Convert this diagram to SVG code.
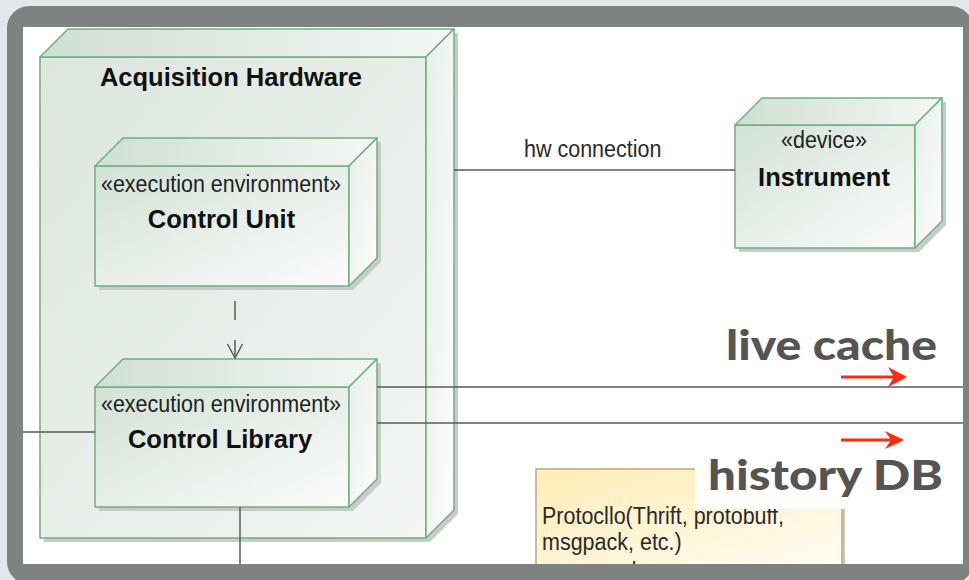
<svg xmlns="http://www.w3.org/2000/svg" width="969" height="580" viewBox="0 0 969 580">
  <defs>
    <linearGradient id="gFront" x1="0" y1="0" x2="1" y2="1">
      <stop offset="0" stop-color="#d2e1d5"/>
      <stop offset="1" stop-color="#fbfcfb"/>
    </linearGradient>
    <linearGradient id="gOuter" x1="0" y1="0" x2="1" y2="1">
      <stop offset="0" stop-color="#dbe6dd"/>
      <stop offset="1" stop-color="#f3f6f4"/>
    </linearGradient>
    <linearGradient id="gTop" x1="0" y1="0" x2="1" y2="0">
      <stop offset="0" stop-color="#cfdfd3"/>
      <stop offset="1" stop-color="#f4f7f5"/>
    </linearGradient>
    <linearGradient id="gSide" x1="0" y1="0" x2="1" y2="1">
      <stop offset="0" stop-color="#e6eee8"/>
      <stop offset="1" stop-color="#fdfdfd"/>
    </linearGradient>
    <linearGradient id="gNote" x1="0" y1="0" x2="1" y2="1">
      <stop offset="0" stop-color="#feedb4"/>
      <stop offset="1" stop-color="#fffcf4"/>
    </linearGradient>
  </defs>
  <style>
    .face { stroke: #6fb07e; stroke-width: 1.5; stroke-linejoin: round; }
    .shadow { fill: #c9cbca; }
    .wire { stroke: #5a5a5a; stroke-width: 1.5; fill: none; }
    .title { font-family: "Liberation Sans", Arial, sans-serif; font-weight: bold; font-size: 25.5px; fill: #111; text-anchor: middle; }
    .stereo { font-family: "Liberation Sans", Arial, sans-serif; font-size: 21.5px; fill: #222; text-anchor: middle; }
    .label { font-family: "Liberation Sans", Arial, sans-serif; font-size: 21.5px; fill: #2a2a2a; }
    .big { font-family: Lato, "Open Sans", sans-serif; font-weight: 900; font-size: 41px; fill: #555555; }
    .red { fill: #ff2a10; }
  </style>

  <!-- page background -->
  <rect x="0" y="0" width="969" height="580" fill="#e3e6ea"/>
  <rect x="23" y="27" width="940" height="537" fill="#ffffff"/>

  <!-- Acquisition Hardware node -->
  <g id="acquisition-hardware">
    <polygon class="shadow" points="44,61 72,33 458,33 458,514 430,542 44,542"/>
    <rect class="face" x="40" y="57" width="386" height="481" fill="url(#gOuter)"/>
    <polygon class="face" points="40,57 68,29 454,29 426,57" fill="url(#gTop)"/>
    <polygon class="face" points="426,57 454,29 454,510 426,538" fill="url(#gSide)"/>
    <text class="title" x="231" y="86">Acquisition Hardware</text>
  </g>

  <!-- Control Unit node -->
  <g id="control-unit">
    <polygon class="shadow" points="99,170 127,142 381,142 381,262 353,290 99,290"/>
    <rect class="face" x="95" y="166" width="254" height="120" fill="url(#gFront)"/>
    <polygon class="face" points="95,166 123,138 377,138 349,166" fill="url(#gTop)"/>
    <polygon class="face" points="349,166 377,138 377,258 349,286" fill="url(#gSide)"/>
    <text class="stereo" transform="translate(221,192) scale(1,1.15)">«execution environment»</text>
    <text class="title" x="221.5" y="228">Control Unit</text>
  </g>

  <!-- Control Library node -->
  <g id="control-library">
    <polygon class="shadow" points="99,391 127,363 381,363 381,483 353,511 99,511"/>
    <rect class="face" x="95" y="387" width="254" height="120" fill="url(#gFront)"/>
    <polygon class="face" points="95,387 123,359 377,359 349,387" fill="url(#gTop)"/>
    <polygon class="face" points="349,387 377,359 377,479 349,507" fill="url(#gSide)"/>
    <text class="stereo" transform="translate(221,412) scale(1,1.15)">«execution environment»</text>
    <text class="title" x="220" y="448">Control Library</text>
  </g>

  <!-- Instrument device node -->
  <g id="instrument">
    <polygon class="shadow" points="739,129 766,102 946,102 946,225 919,252 739,252"/>
    <rect class="face" x="735" y="125" width="180" height="123" fill="url(#gFront)"/>
    <polygon class="face" points="735,125 762,98 942,98 915,125" fill="url(#gTop)"/>
    <polygon class="face" points="915,125 942,98 942,221 915,248" fill="url(#gSide)"/>
    <text class="stereo" transform="translate(824,148) scale(1,1.15)">«device»</text>
    <text class="title" x="824" y="186">Instrument</text>
  </g>

  <!-- Connectors -->
  <g id="connectors">
    <line class="wire" x1="454" y1="170" x2="735" y2="170"/>
    <text class="label" transform="translate(524,157) scale(1,1.15)">hw connection</text>
    <!-- dependency: Control Unit to Control Library -->
    <line class="wire" x1="235" y1="301" x2="235" y2="320"/>
    <line class="wire" x1="235" y1="340" x2="235" y2="358"/>
    <polyline class="wire" points="227.5,344 235,358 242.5,344"/>
    <line class="wire" x1="23" y1="432" x2="95" y2="432"/>
    <line class="wire" x1="377" y1="387" x2="963" y2="387"/>
    <line class="wire" x1="377" y1="423" x2="963" y2="423"/>
    <line class="wire" x1="240" y1="507" x2="240" y2="564"/>
  </g>

  <!-- Note -->
  <g id="note">
    <rect x="539" y="472" width="306" height="100" fill="#c9c6bc"/>
    <rect x="536" y="469" width="306" height="100" fill="url(#gNote)" stroke="#b8aa7c" stroke-width="1.5"/>
    <text class="label" transform="translate(542,524) scale(1,1.15)">Protocllo(Thrift, protobuff,</text>
    <text class="label" transform="translate(542,550) scale(1,1.15)">msgpack, etc.)</text>
    <text class="label" transform="translate(542,579) scale(1,1.15)"> command server</text>
  </g>

  <!-- Callouts -->
  <g id="live-cache">
    <text class="big" x="726" y="360" textLength="211" lengthAdjust="spacingAndGlyphs">live cache</text>
    <polygon class="red" points="841,375.6 893,375.6 888,367 907,377 888,387 893,378.4 841,378.4"/>
  </g>
  <g id="history-db">
    <polygon class="red" points="841,438.6 890,438.6 885,431 904,440 885,449 890,441.4 841,441.4"/>
    <rect x="695" y="452" width="255" height="57" fill="#ffffff"/>
    <text class="big" x="708" y="490" textLength="235" lengthAdjust="spacingAndGlyphs">history DB</text>
  </g>

  <!-- frame border drawn over content -->
  <path fill="#7e8381" fill-rule="evenodd" d="M29,6 H951 A22,22 0 0 1 973,28 V562 A22,22 0 0 1 951,584 H29 A22,22 0 0 1 7,562 V28 A22,22 0 0 1 29,6 Z M23,27 V564 H963 V27 Z"/>
</svg>
